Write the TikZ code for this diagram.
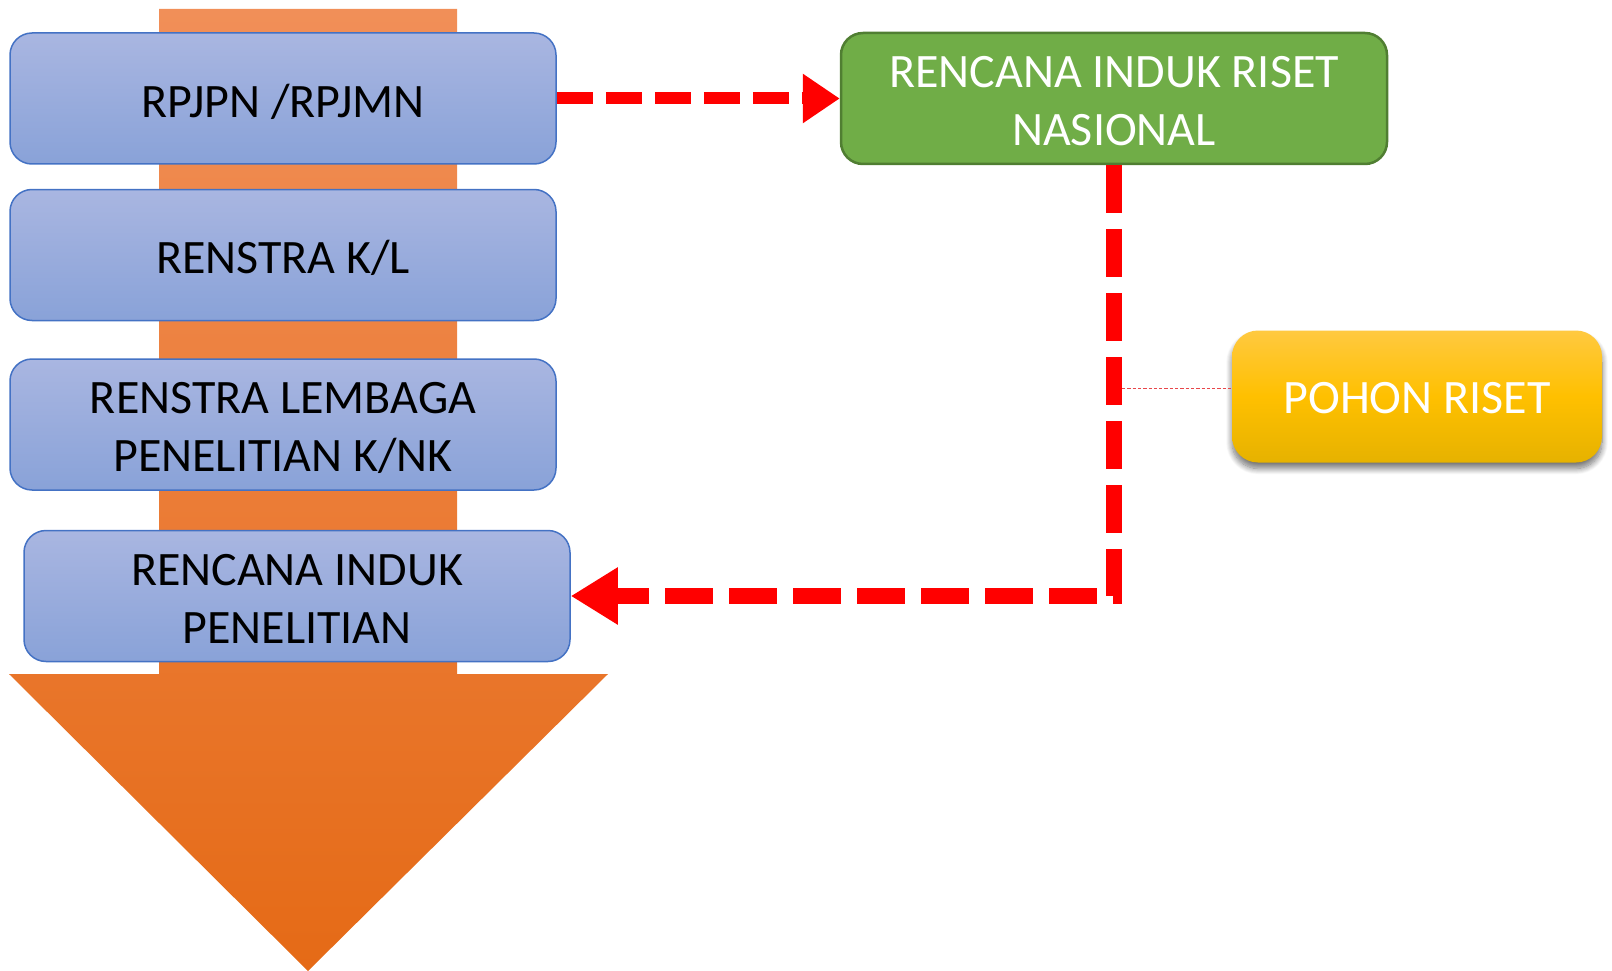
\documentclass[tikz,border=0pt]{standalone}
\usepackage{fontspec}
\setmainfont{Carlito}
\usetikzlibrary{arrows.meta,shadows,shadows.blur}
\definecolor{bluetop}{RGB}{169,182,225}
\definecolor{bluebot}{RGB}{137,162,216}
\definecolor{blueline}{RGB}{68,114,196}
\definecolor{orangetop}{RGB}{241,143,88}
\definecolor{orangebot}{RGB}{229,106,22}
\definecolor{greenfill}{RGB}{112,173,71}
\definecolor{greenline}{RGB}{80,126,50}
\definecolor{yellowtop}{RGB}{255,201,64}
\definecolor{yellowmid}{RGB}{255,192,0}
\definecolor{yellowbot}{RGB}{230,178,0}
\definecolor{redline}{RGB}{255,0,0}
\definecolor{thinred}{RGB}{232,70,74}
\begin{document}
\begin{tikzpicture}[x=1pt,y=1pt,
  txt/.style={font=\fontsize{48}{58}\selectfont, align=center, inner sep=0pt},
  boxtext/.style={label={[txt, text=#1, yshift=-3pt]center:}},
  bluebox/.style={rounded corners=22pt, minimum width=546pt, minimum height=131pt,
    draw=blueline, line width=1.5pt, top color=bluetop, bottom color=bluebot},
  greenbox/.style={rounded corners=22pt, minimum width=546pt, minimum height=131pt,
    draw=greenline, line width=2.5pt, fill=greenfill},
  yellowbox/.style={rounded corners=26pt, minimum width=370pt, minimum height=132pt,
    top color=yellowtop, bottom color=yellowbot, middle color=yellowmid,
    blur shadow={shadow xshift=0pt, shadow yshift=-6pt, shadow blur radius=6pt,
      shadow blur steps=12, shadow opacity=55}},
  reddash/.style={draw=redline, line join=miter},
]
\useasboundingbox (0,0) rectangle (1612,-971);
% big orange arrow
\shade[top color=orangetop, bottom color=orangebot]
  (159,-9) -- (457,-9) -- (457,-674) -- (608,-674) -- (308,-971) -- (9,-674) -- (159,-674) -- cycle;
% boxes
\node[bluebox, label={[txt, text=black, yshift=-3pt]center:RPJPN /RPJMN}] (b1) at (283,-98.5) {};
\node[bluebox, label={[txt, text=black, yshift=-3pt]center:RENSTRA K/L}] (b2) at (283,-255) {};
\node[bluebox, label={[txt, text=black, yshift=-3pt]center:{RENSTRA LEMBAGA\\PENELITIAN K/NK}}] (b3) at (283,-424.5) {};
\node[bluebox, label={[txt, text=black, yshift=-3pt]center:{RENCANA INDUK\\PENELITIAN}}] (b4) at (297,-596) {};
\node[greenbox, label={[txt, text=white, yshift=-3pt]center:{RENCANA INDUK RISET\\NASIONAL}}] (rin) at (1114,-98.5) {};
\node[yellowbox, label={[txt, text=white, yshift=-2pt]center:POHON RISET}] (pr) at (1417,-396.5) {};
% connectors
\draw[reddash, line width=12pt, dash pattern=on 36pt off 13pt,
  -{Triangle[length=37pt,width=47pt]}] (b1.east) -- (rin.west);
\draw[reddash, line width=16pt, dash pattern=on 48pt off 16pt,
  -{Triangle[length=47pt,width=54pt]}] (rin.south) |- (b4.east);
\coordinate (dl) at (1122,-388);
\draw[thinred, line width=1pt, dash pattern=on 3.3pt off 2pt] (dl) -- (pr.west |- dl);
\end{tikzpicture}
\end{document}
